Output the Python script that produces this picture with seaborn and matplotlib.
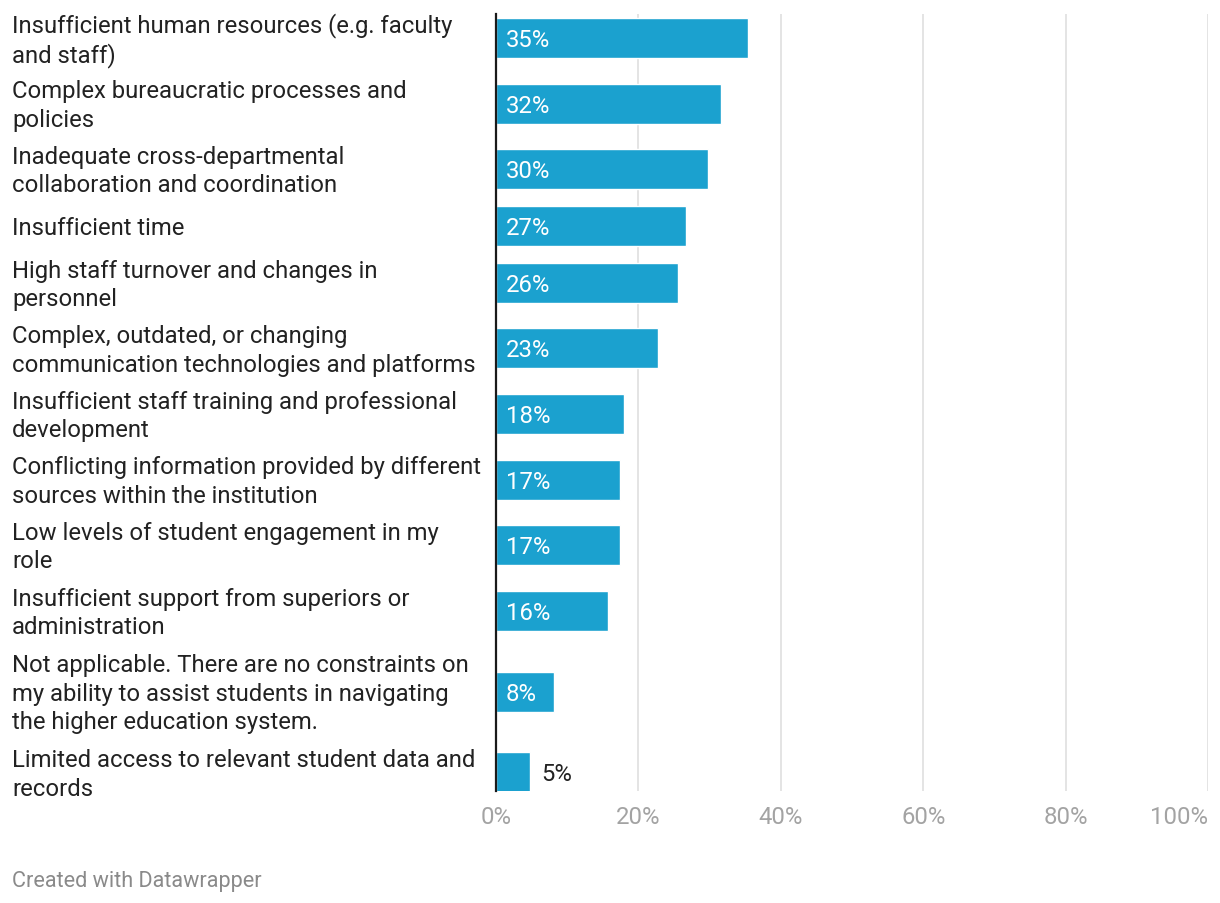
import matplotlib
matplotlib.use("Agg")
import matplotlib.pyplot as plt
import matplotlib.transforms as mtransforms
import pandas as pd
import seaborn as sns

labels = [
    "Insufficient human resources (e.g. faculty\nand staff)",
    "Complex bureaucratic processes and\npolicies",
    "Inadequate cross-departmental\ncollaboration and coordination",
    "Insufficient time",
    "High staff turnover and changes in\npersonnel",
    "Complex, outdated, or changing\ncommunication technologies and platforms",
    "Insufficient staff training and professional\ndevelopment",
    "Conflicting information provided by different\nsources within the institution",
    "Low levels of student engagement in my\nrole",
    "Insufficient support from superiors or\nadministration",
    "Not applicable. There are no constraints on\nmy ability to assist students in navigating\nthe higher education system.",
    "Limited access to relevant student data and\nrecords",
]
values = [35.4, 31.6, 29.8, 26.7, 25.6, 22.8, 18.0, 17.4, 17.4, 15.7, 8.1, 4.8]
xticks = [0, 20, 40, 60, 80, 100]

BAR = "#1ba1cf"
TEXT = "#222222"
FS = 17.2

sns.set_theme(style="white")
plt.rcParams["font.family"] = ["Roboto", "DejaVu Sans"]

# row layout: taller rows for labels that wrap over more lines (pixel units)
row_h = {1: 48, 2: 65.6, 3: 96}
lines = [lb.count("\n") + 1 for lb in labels]
pos = [39.0]
for a, b in zip(lines[:-1], lines[1:]):
    pos.append(pos[-1] + (row_h[a] + row_h[b]) / 2)

df = pd.DataFrame({"label": labels, "value": values, "pos": pos})

W, H = 1220, 904
fig = plt.figure(figsize=(W / 100, H / 100), dpi=100)
top_px, bot_px = 15, 792
ax = fig.add_axes([496 / W, 1 - bot_px / H, (1208 - 496) / W, (bot_px - top_px) / H])

gap = min(b - a for a, b in zip(pos[:-1], pos[1:]))
sns.barplot(data=df, x="value", y="pos", orient="h", native_scale=True,
            color=BAR, saturation=1, width=40 / gap, ax=ax, zorder=3)

ax.set_xlim(0, 100)
ax.set_ylim(bot_px, top_px)
ax.set_xlabel("")
ax.set_ylabel("")
ax.set_yticks([])
ax.set_xticks(xticks)
ax.set_xticklabels([f"{t}%" for t in xticks])
ax.tick_params(axis="x", length=0, pad=10, labelsize=FS, labelcolor="#a3a3a3")
ax.get_xticklabels()[-1].set_ha("right")
for t in xticks[1:]:
    ax.axvline(t, color="#e2e2e2", lw=1.3, zorder=1)
for s in ["top", "right", "bottom"]:
    ax.spines[s].set_visible(False)
ax.spines["left"].set_color("#1a1a1a")
ax.spines["left"].set_linewidth(1.6)
ax.spines["left"].set_zorder(5)

for v, p in zip(values, pos):
    if v >= 6:
        ax.text(1.4, p + 1.5, f"{v:.0f}%", color="white", ha="left", va="center",
                fontsize=FS, zorder=4)
    else:
        ax.text(v + 1.5, p + 1.5, f"{v:.0f}%", color=TEXT, ha="left", va="center",
                fontsize=FS, zorder=4)

trans = mtransforms.blended_transform_factory(fig.transFigure, ax.transData)
for lb, p in zip(labels, pos):
    ax.text(12 / W, p + 1.5, lb, transform=trans, ha="left", va="center",
            multialignment="left", fontsize=FS, color=TEXT, linespacing=1.29,
            clip_on=False)

fig.text(12 / W, 1 - 882 / H, "Created with Datawrapper", ha="left", va="center",
         fontsize=15.6, color="#8a8a8a")

fig.savefig("out.png", dpi=100, facecolor="white")
